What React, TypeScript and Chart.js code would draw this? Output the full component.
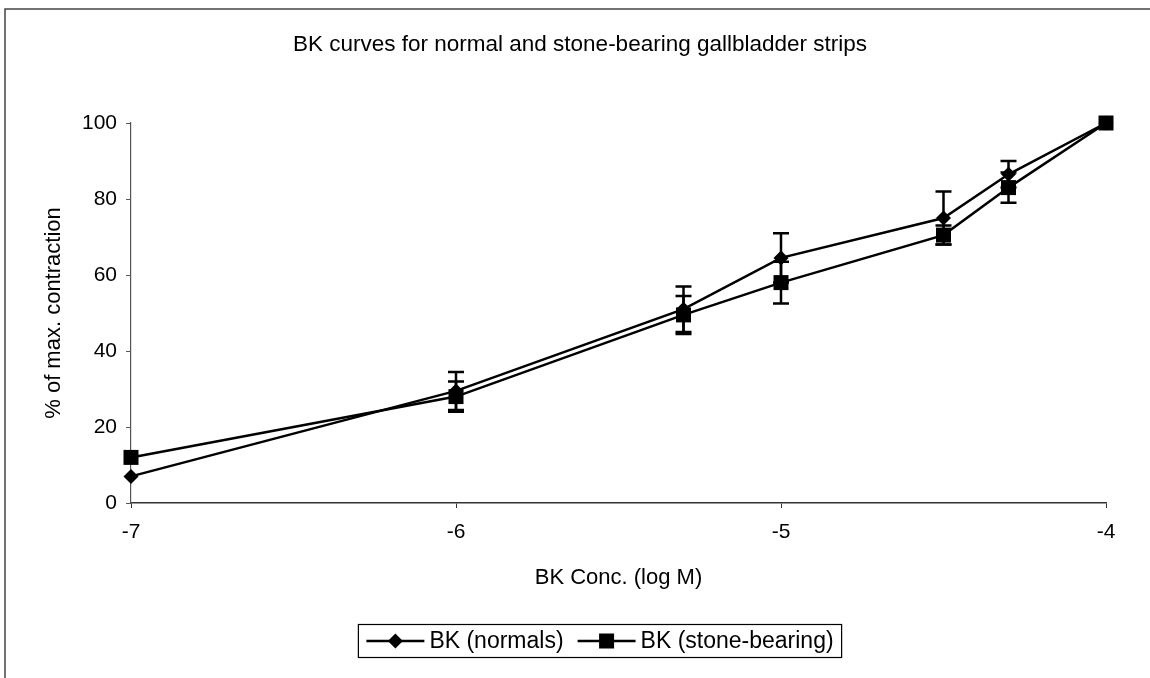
import { useEffect, useRef } from "react";
import { Chart, registerables } from "chart.js";

Chart.register(...registerables);

// Concentration of bradykinin (log M) at which contraction was measured
const logConc = [-7, -6, -5.3, -5, -4.5, -4.3, -4];

// Mean % of maximal contraction and its error, normal strips
const normalsMean = [7, 29.5, 51, 64.5, 75, 86.5, 100];
const normalsErr = [0, 5, 6, 6.5, 7, 3.5, 0];

// Mean % of maximal contraction and its error, stone-bearing strips
const stoneMean = [12, 28, 49.5, 58, 70.5, 83, 100];
const stoneErr = [0, 4, 5, 5.5, 2.5, 4, 0];

const xTicks = [-7, -6, -5, -4];
const yTicks = [0, 20, 40, 60, 80, 100];

const seriesLabels = ["BK (normals)", "BK (stone-bearing)"];
const seriesMarkers = ["rectRot", "rect"];
const chartTitle = "BK curves for normal and stone-bearing gallbladder strips";
const xTitle = "BK Conc. (log M)";
const yTitle = "% of max. contraction";

const FONT = "'Liberation Sans', Arial, Helvetica, sans-serif";
const TICK_SIZE = 21;
const TITLE_SIZE = 22;
const HEADING_SIZE = 22.5;
const LEGEND_SIZE = 23;

const errorSets = [normalsErr, stoneErr];

// Vertical error bars with caps, drawn from the data through the scales
const errorBarsPlugin = {
  id: "errorBars",
  afterDatasetsDraw(chart: any) {
    const { ctx, scales } = chart;
    const xs = scales.x;
    const ys = scales.y;
    ctx.save();
    ctx.strokeStyle = "#000";
    ctx.lineWidth = 2.5;
    chart.data.datasets.forEach((ds: any, i: number) => {
      const errs = errorSets[i];
      ds.data.forEach((p: any, j: number) => {
        const e = errs[j];
        if (!e) return;
        const px = xs.getPixelForValue(p.x);
        const top = ys.getPixelForValue(p.y + e);
        const bot = ys.getPixelForValue(p.y - e);
        const cap = 8;
        ctx.beginPath();
        ctx.moveTo(px, top);
        ctx.lineTo(px, bot);
        ctx.moveTo(px - cap, top);
        ctx.lineTo(px + cap, top);
        ctx.moveTo(px - cap, bot);
        ctx.lineTo(px + cap, bot);
        ctx.stroke();
      });
    });
    ctx.restore();
  },
};

// White page with the outline along the top and left edge, and the heading
const framePlugin = {
  id: "frame",
  beforeDraw(chart: any) {
    const { ctx, width, height } = chart;
    ctx.save();
    ctx.fillStyle = "#fff";
    ctx.fillRect(0, 0, width, height);
    ctx.strokeStyle = "#444";
    ctx.lineWidth = 1.5;
    ctx.beginPath();
    ctx.moveTo(width, 9);
    ctx.lineTo(5, 9);
    ctx.lineTo(5, height);
    ctx.stroke();
    ctx.fillStyle = "#000";
    ctx.font = `${HEADING_SIZE}px ${FONT}`;
    ctx.textAlign = "center";
    ctx.textBaseline = "middle";
    ctx.fillText(chartTitle, 580, 45);
    ctx.restore();
  },
};

function drawMarker(ctx: CanvasRenderingContext2D, style: string, x: number, y: number) {
  ctx.beginPath();
  if (style === "rect") {
    ctx.rect(x - 7.5, y - 7.5, 15, 15);
  } else {
    ctx.moveTo(x, y - 7.5);
    ctx.lineTo(x + 7.5, y);
    ctx.lineTo(x, y + 7.5);
    ctx.lineTo(x - 7.5, y);
    ctx.closePath();
  }
  ctx.fill();
}

// Boxed legend below the axis title: line + marker, then the label
const boxedLegendPlugin = {
  id: "boxedLegend",
  afterDraw(chart: any) {
    const { ctx } = chart;
    ctx.save();
    ctx.font = `${LEGEND_SIZE}px ${FONT}`;
    ctx.textBaseline = "middle";
    ctx.fillStyle = "#000";
    const sampleLen = 58;
    const gapAfterSample = 5;
    const gapBetween = 14;
    const padX = 8;
    const widths = seriesLabels.map((t) => ctx.measureText(t).width);
    const total =
      padX * 2 +
      widths.reduce((a, w) => a + sampleLen + gapAfterSample + w, 0) +
      gapBetween * (seriesLabels.length - 1);
    const cx = 600;
    const cy = 641;
    const h = 33;
    const left = cx - total / 2;
    ctx.strokeStyle = "#000";
    ctx.lineWidth = 1.2;
    ctx.strokeRect(left, cy - h / 2, total, h);
    let x = left + padX;
    seriesLabels.forEach((label, i) => {
      ctx.lineWidth = 2.5;
      ctx.beginPath();
      ctx.moveTo(x, cy);
      ctx.lineTo(x + sampleLen, cy);
      ctx.stroke();
      drawMarker(ctx, seriesMarkers[i], x + sampleLen / 2, cy);
      x += sampleLen + gapAfterSample;
      ctx.fillText(label, x, cy + 1);
      x += widths[i] + gapBetween;
    });
    ctx.restore();
  },
};

export default function App() {
  const canvasRef = useRef<HTMLCanvasElement | null>(null);

  useEffect(() => {
    const canvas = canvasRef.current;
    if (!canvas) return;
    Chart.defaults.font.family = FONT;
    Chart.defaults.color = "#000";

    const makeSeries = (means: number[], i: number) => ({
      label: seriesLabels[i],
      data: logConc.map((x, j) => ({ x, y: means[j] })),
      borderColor: "#000",
      backgroundColor: "#000",
      borderWidth: 2.5,
      pointStyle: seriesMarkers[i],
      pointRadius: seriesMarkers[i] === "rect" ? 10.6 : 7.5,
      pointBorderWidth: 0,
      pointBackgroundColor: "#000",
      tension: 0,
      fill: false,
      clip: false,
    });

    const chart = new Chart(canvas, {
      type: "line",
      data: {
        datasets: [makeSeries(normalsMean, 0), makeSeries(stoneMean, 1)],
      },
      options: {
        responsive: false,
        animation: false,
        devicePixelRatio: 1,
        layout: { padding: { left: 0, right: 44, top: 123, bottom: 0 } },
        plugins: {
          legend: { display: false },
          tooltip: { enabled: false },
          title: { display: false },
        },
        scales: {
          x: {
            type: "linear",
            min: -7,
            max: -4,
            afterBuildTicks: (scale: any) => {
              scale.ticks = xTicks.map((value) => ({ value }));
            },
            afterFit: (scale: any) => {
              scale.height = 175;
            },
            ticks: {
              font: { size: TICK_SIZE },
              color: "#000",
              padding: 12,
              callback: (v: any) => String(v),
            },
            grid: {
              display: true,
              drawOnChartArea: false,
              drawTicks: true,
              tickLength: 5,
              color: "#333",
            },
            border: { display: true, color: "#333", width: 1.5 },
            title: {
              display: true,
              text: xTitle,
              font: { size: TITLE_SIZE },
              color: "#000",
              padding: { top: 0, bottom: 87 },
            },
          },
          y: {
            type: "linear",
            min: 0,
            max: 100,
            afterBuildTicks: (scale: any) => {
              scale.ticks = yTicks.map((value) => ({ value }));
            },
            afterFit: (scale: any) => {
              scale.width = 131;
            },
            ticks: {
              font: { size: TICK_SIZE },
              color: "#000",
              padding: 9,
            },
            grid: {
              display: true,
              drawOnChartArea: false,
              drawTicks: true,
              tickLength: 5,
              color: "#555",
            },
            border: { display: true, color: "#555", width: 1.2 },
            title: {
              display: true,
              text: yTitle,
              font: { size: TITLE_SIZE },
              color: "#000",
              padding: { top: 41, bottom: 0 },
            },
          },
        },
      } as any,
      plugins: [framePlugin, errorBarsPlugin, boxedLegendPlugin],
    });

    return () => chart.destroy();
  }, []);

  return (
    <div style={{ position: "absolute", left: 0, top: 0, width: 1150, height: 678, background: "#fff" }}>
      <canvas ref={canvasRef} width={1150} height={678} style={{ display: "block" }} />
    </div>
  );
}
